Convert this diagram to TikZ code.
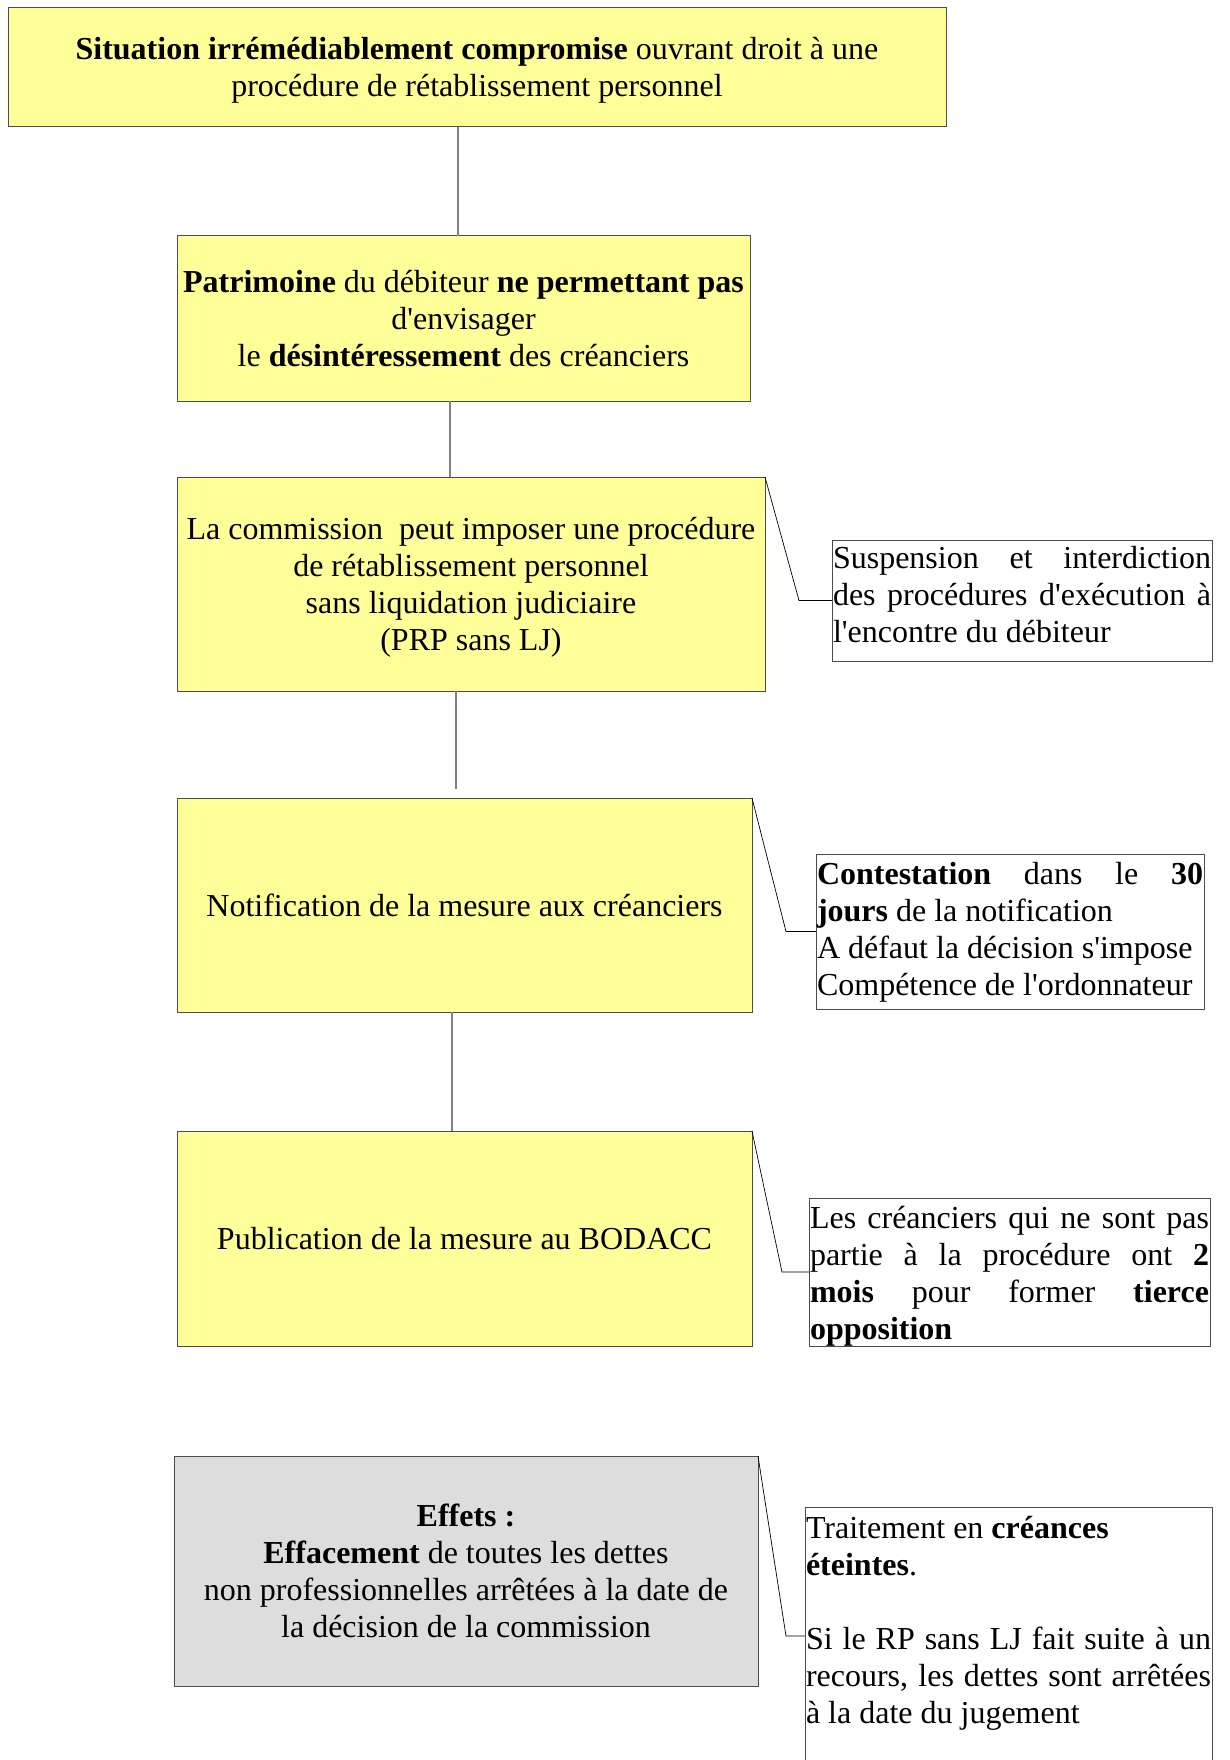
\documentclass[tikz,border=0pt]{standalone}
\usepackage{fontspec}
\setmainfont{Liberation Serif}
\usetikzlibrary{positioning}
\definecolor{boxyellow}{HTML}{FFFF99}
\definecolor{boxgrey}{HTML}{DDDDDD}
\definecolor{linkgrey}{HTML}{808080}
\newcommand{\sq}{\textquotesingle}
\begin{document}
\begin{tikzpicture}[x=1pt, y=1pt,
        mainbox/.style={draw=black!70, line width=1pt, fill=boxyellow, align=center, inner sep=2pt, outer sep=0pt, text height=29.5pt, text depth=7.5pt, font=\fontsize{32}{37}\selectfont},
        notebox/.style={draw=black!70, line width=0.8pt, fill=white, align=justify, inner xsep=1pt, inner ysep=0pt, outer sep=0pt, anchor=north west, text height=28pt, font=\fontsize{32}{37}\selectfont},
        link/.style={draw=linkgrey, line width=1.4pt},
        callout/.style={draw=black, line width=0.7pt}]
    \useasboundingbox (0,0) rectangle (1230,-1760);

    % main chain
    \node[mainbox, text height=66.5pt, minimum width=938pt, minimum height=119pt] (situation) at (477,-67.5) {\textbf{Situation irrémédiablement compromise} ouvrant droit à une\\ procédure de rétablissement personnel};
    \node[mainbox, text height=103.5pt, minimum width=573pt, minimum height=165pt, below=109pt of situation, xshift=-13.5pt] (patrimoine) {\textbf{Patrimoine} du débiteur \textbf{ne permettant pas}\\ d\sq envisager\\ le \textbf{désintéressement} des créanciers};
    \node[mainbox, text height=140.5pt, minimum width=588pt, minimum height=214pt, below=76pt of patrimoine, xshift=7.5pt] (commission) {La commission\ \ peut imposer une procédure\\ de rétablissement personnel\\ sans liquidation judiciaire\\ (PRP sans LJ)};
    \node[mainbox, minimum width=575pt, minimum height=214pt, below=107pt of commission, xshift=-6.5pt] (notification) {Notification de la mesure aux créanciers};
    \node[mainbox, minimum width=575pt, minimum height=215pt, below=119pt of notification] (publication) {Publication de la mesure au BODACC};
    \node[mainbox, fill=boxgrey, text height=140.5pt, minimum width=584pt, minimum height=230pt, below=110pt of publication, xshift=1.5pt] (effets) {\textbf{Effets :}\\ \textbf{Effacement} de toutes les dettes\\ non professionnelles arrêtées à la date de\\ la décision de la commission};

    % notes
    \node[notebox, text width=378pt, text depth=93pt, below right=63pt and 67pt of commission.north east] (suspension) {Suspension et interdiction\linebreak des procédures d\sq exécution à\linebreak l\sq encontre du débiteur};
    \node[notebox, text width=386pt, text height=30pt, text depth=125pt, below right=56pt and 64pt of notification.north east] (contestation) {\textbf{Contestation} dans le \textbf{30}\linebreak \textbf{jours} de la notification\\ A défaut la décision s\sq impose\\ Compétence de l\sq ordonnateur};
    \node[notebox, text width=399pt, text height=30pt, text depth=118pt, below right=67pt and 57pt of publication.north east] (tierce) {Les créanciers qui ne sont pas\linebreak partie à la procédure ont \textbf{2}\linebreak \textbf{mois} pour former \textbf{tierce}\linebreak \textbf{opposition}};
    \node[notebox, text width=405pt, text height=31pt, text depth=240pt, below right=51pt and 47pt of effets.north east] (traitement) {Traitement en \textbf{créances}\\ \textbf{éteintes}.\\[37pt] Si le RP sans LJ fait suite à un\linebreak recours, les dettes sont arrêtées\linebreak à la date du jugement};

    % links
    \coordinate (l1) at ([xshift=-19pt]situation.south);
    \coordinate (l2) at ([xshift=-13.5pt]patrimoine.south);
    \coordinate (l3) at ([xshift=-15pt]commission.south);
    \coordinate (l4) at ([xshift=-12.5pt]notification.south);
    \draw[link] (l1) -- (l1 |- patrimoine.north);
    \draw[link] (l2) -- (l2 |- commission.north);
    \draw[link, shorten >=9pt] (l3) -- (l3 |- notification.north);
    \draw[link] (l4) -- (l4 |- publication.north);

    \draw[callout] (commission.north east) -- ([xshift=-33pt]suspension.west) -- (suspension.west);
    \draw[callout] (notification.north east) -- ([xshift=-30pt]contestation.west) -- (contestation.west);
    \draw[callout] (publication.north east) -- ([xshift=-27pt]tierce.west) -- (tierce.west);
    \draw[callout] (effets.north east) -- ([xshift=-19pt, yshift=-129pt]traitement.north west) -- ([yshift=-129pt]traitement.north west);
\end{tikzpicture}
\end{document}
